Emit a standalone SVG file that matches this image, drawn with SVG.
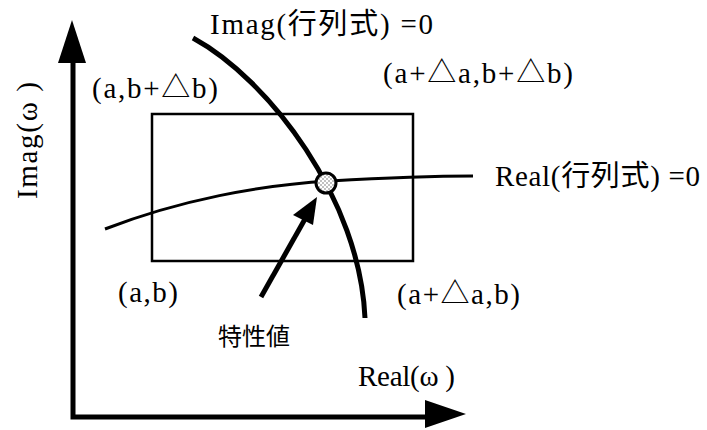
<svg xmlns="http://www.w3.org/2000/svg" width="707" height="430" viewBox="0 0 707 430">
  <defs>
    <style>
      .lbl { font-family: "Liberation Serif", "Noto Sans CJK JP", serif; font-size: 29px; fill: #000; }
      .cjk { font-family: "Noto Sans CJK JP", sans-serif; font-size: 29px; }
      .jp { font-family: "Noto Sans CJK JP", sans-serif; font-size: 24px; fill: #000; }
      .axis { fill: none; stroke: #000; stroke-width: 5; }
      .curve { fill: none; stroke: #000; }
      .head { fill: #000; stroke: none; }
    </style>
    <pattern id="dots" width="4" height="4" patternUnits="userSpaceOnUse">
      <rect width="4" height="4" fill="#fff"/>
      <circle cx="1" cy="1" r="0.7" fill="#555"/>
      <circle cx="3" cy="3" r="0.7" fill="#555"/>
    </pattern>
  </defs>
  <rect width="707" height="430" fill="#fff"/>

  <g id="connectors">
    <!-- axes -->
    <polyline class="axis" points="73,58 73,417 430,417" stroke-linejoin="miter"/>
    <polygon class="head" points="72,20 58,63 86,63"/>
    <polygon class="head" points="466,414 425,400 425,428"/>
    <!-- Imag(det)=0 curve -->
    <path class="curve" stroke-width="5" d="M193,38 C270,80 360,200 365,318"/>
    <!-- Real(det)=0 curve -->
    <path class="curve" stroke-width="3" d="M105,229 C180,200 260,185 330,181 S430,176 473,176"/>
    <!-- pointer to eigenvalue -->
    <line x1="261" y1="297" x2="305" y2="219" stroke="#000" stroke-width="5"/>
    <polygon class="head" points="317,197 293,215 313,225"/>
  </g>

  <g id="rect">
    <rect x="152" y="114" width="261" height="147" fill="none" stroke="#000" stroke-width="2.5"/>
  </g>

  <g id="eigenvalue-point">
    <circle cx="326" cy="183" r="10" fill="url(#dots)" stroke="#000" stroke-width="3"/>
  </g>

  <g id="label-imag-det">
    <text class="lbl" x="210" y="34" textLength="223" lengthAdjust="spacing">Imag(<tspan class="cjk">行列式</tspan>) =0</text>
  </g>
  <g id="label-real-det">
    <text class="lbl" x="495" y="186" textLength="205" lengthAdjust="spacing">Real(<tspan class="cjk">行列式</tspan>) =0</text>
  </g>
  <g id="corner-tl">
    <text class="lbl" x="92" y="98" textLength="126" lengthAdjust="spacing">(a,b+△b)</text>
  </g>
  <g id="corner-tr">
    <text class="lbl" x="383" y="83" textLength="190" lengthAdjust="spacing">(a+△a,b+△b)</text>
  </g>
  <g id="corner-bl">
    <text class="lbl" x="118" y="302" textLength="60" lengthAdjust="spacing">(a,b)</text>
  </g>
  <g id="corner-br">
    <text class="lbl" x="397" y="304" textLength="123" lengthAdjust="spacing">(a+△a,b)</text>
  </g>
  <g id="axis-real">
    <text class="lbl" x="358" y="386" textLength="97" lengthAdjust="spacing">Real(ω )</text>
  </g>
  <g id="axis-imag">
    <text class="lbl" transform="translate(37,199) rotate(-90)" textLength="117" lengthAdjust="spacing">Imag(ω )</text>
  </g>
  <g id="label-eigen">
    <text class="jp" x="218" y="345" textLength="72" lengthAdjust="spacing">特性値</text>
  </g>
</svg>
